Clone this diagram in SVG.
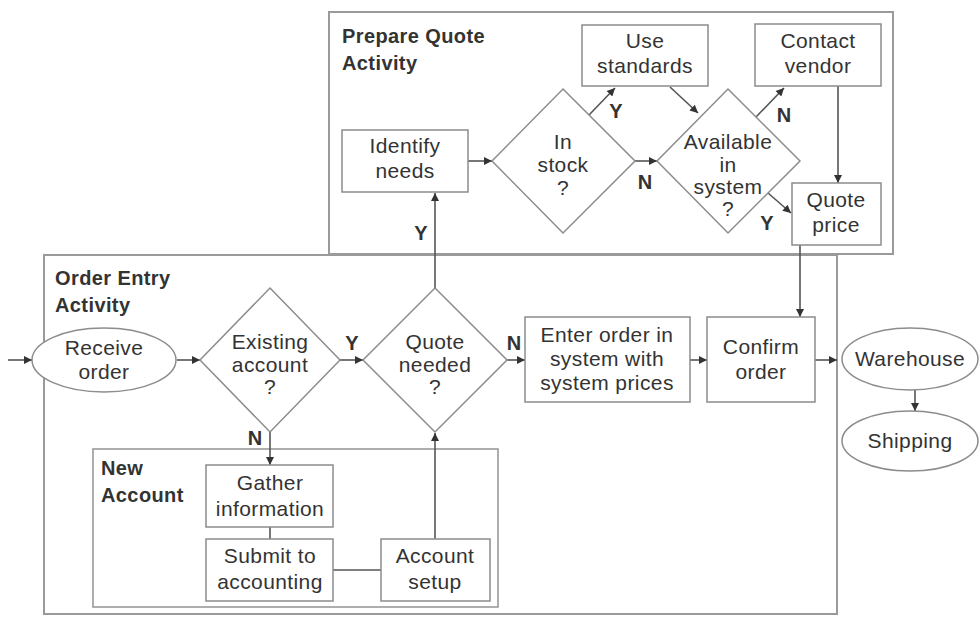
<svg xmlns="http://www.w3.org/2000/svg" width="979" height="641" viewBox="0 0 979 641">
<style>
.frame{fill:none;stroke:#9a9a9a;stroke-width:2}
.box{fill:#fff;stroke:#8c8c8c;stroke-width:1.5}
.t{font-family:"Liberation Sans",Arial,sans-serif;font-size:21px;fill:#333;text-anchor:middle;letter-spacing:0.4px}
.h{font-family:"Liberation Sans",Arial,sans-serif;font-size:20px;font-weight:bold;fill:#333;letter-spacing:0.4px}
.yn{font-family:"Liberation Sans",Arial,sans-serif;font-size:20px;font-weight:bold;fill:#333;text-anchor:middle}
.c{fill:none;stroke:#555;stroke-width:1.6}
</style>
<defs>
<marker id="ah" viewBox="0 0 10 10" refX="10" refY="5" markerWidth="10" markerHeight="8" markerUnits="userSpaceOnUse" orient="auto">
<path d="M0,0 L10,5 L0,10 z" fill="#333"/>
</marker>
</defs>
<rect width="979" height="641" fill="#fff"/>

<g id="prepare-quote">
<rect class="frame" x="329" y="12" width="564" height="242" fill="#fff"/>
<text class="h" x="342" y="43">Prepare Quote</text>
<text class="h" x="342" y="70">Activity</text>
</g>
<g id="order-entry">
<rect class="frame" x="44" y="255" width="793" height="359"/>
<text class="h" x="55" y="285">Order Entry</text>
<text class="h" x="55" y="312">Activity</text>
</g>
<g id="new-account">
<rect class="frame" x="93" y="449" width="405" height="158" style="stroke-width:1.6"/>
<text class="h" x="101" y="475">New</text>
<text class="h" x="101" y="502">Account</text>
</g>

<g id="connectors">
<line class="c" x1="8" y1="360" x2="32" y2="360" marker-end="url(#ah)"/>
<line class="c" x1="177" y1="360" x2="200" y2="360" marker-end="url(#ah)"/>
<line class="c" x1="340" y1="360" x2="363" y2="360" marker-end="url(#ah)"/>
<line class="c" x1="507" y1="360" x2="525" y2="360" marker-end="url(#ah)"/>
<line class="c" x1="690" y1="360" x2="707" y2="360" marker-end="url(#ah)"/>
<line class="c" x1="815" y1="360" x2="837" y2="360" marker-end="url(#ah)"/>
<line class="c" x1="915" y1="390" x2="915" y2="411" marker-end="url(#ah)"/>
<line class="c" x1="435" y1="288" x2="435" y2="193" marker-end="url(#ah)"/>
<line class="c" x1="468" y1="161" x2="492" y2="161" marker-end="url(#ah)"/>
<line class="c" x1="635" y1="161" x2="657" y2="161" marker-end="url(#ah)"/>
<line class="c" x1="589" y1="115" x2="615" y2="88" marker-end="url(#ah)"/>
<line class="c" x1="670" y1="87" x2="698" y2="113" marker-end="url(#ah)"/>
<line class="c" x1="756" y1="117" x2="784" y2="88" marker-end="url(#ah)"/>
<line class="c" x1="768" y1="193" x2="791" y2="213" marker-end="url(#ah)"/>
<line class="c" x1="838" y1="86" x2="838" y2="183" marker-end="url(#ah)"/>
<line class="c" x1="800" y1="245" x2="800" y2="317" marker-end="url(#ah)"/>
<line class="c" x1="270" y1="432" x2="270" y2="465" marker-end="url(#ah)"/>
<line class="c" x1="270" y1="527" x2="270" y2="539"/>
<line class="c" x1="333" y1="570" x2="381" y2="570"/>
<line class="c" x1="435" y1="539" x2="435" y2="433" marker-end="url(#ah)"/>
<text class="yn" x="616" y="118">Y</text>
<text class="yn" x="645" y="189">N</text>
<text class="yn" x="784" y="122">N</text>
<text class="yn" x="767" y="230">Y</text>
<text class="yn" x="421" y="240">Y</text>
<text class="yn" x="352" y="350">Y</text>
<text class="yn" x="514" y="350">N</text>
<text class="yn" x="255" y="445">N</text>
</g>

<g id="identify-needs">
<rect class="box" x="342" y="130" width="126" height="62"/>
<text class="t" x="405" y="153">Identify</text>
<text class="t" x="405" y="178">needs</text>
</g>
<g id="in-stock">
<polygon class="box" points="563,89 635,161 563,233 492,161"/>
<text class="t" x="563" y="149">In</text>
<text class="t" x="563" y="172">stock</text>
<text class="t" x="563" y="195">?</text>
</g>
<g id="use-standards">
<rect class="box" x="582" y="25" width="126" height="61"/>
<text class="t" x="645" y="48">Use</text>
<text class="t" x="645" y="73">standards</text>
</g>
<g id="available-in-system">
<polygon class="box" points="728,89 800,161 728,233 657,161"/>
<text class="t" x="728" y="149">Available</text>
<text class="t" x="728" y="172">in</text>
<text class="t" x="728" y="194">system</text>
<text class="t" x="728" y="216">?</text>
</g>
<g id="contact-vendor">
<rect class="box" x="755" y="24" width="126" height="62"/>
<text class="t" x="818" y="48">Contact</text>
<text class="t" x="818" y="73">vendor</text>
</g>
<g id="quote-price">
<rect class="box" x="792" y="183" width="89" height="62"/>
<text class="t" x="836" y="207">Quote</text>
<text class="t" x="836" y="232">price</text>
</g>
<g id="receive-order">
<ellipse class="box" cx="104" cy="360" rx="72" ry="32"/>
<text class="t" x="104" y="355">Receive</text>
<text class="t" x="104" y="379">order</text>
</g>
<g id="existing-account">
<polygon class="box" points="270,288 340,360 270,432 200,360"/>
<text class="t" x="270" y="349">Existing</text>
<text class="t" x="270" y="372">account</text>
<text class="t" x="270" y="394">?</text>
</g>
<g id="quote-needed">
<polygon class="box" points="435,288 507,360 435,432 363,360"/>
<text class="t" x="435" y="349">Quote</text>
<text class="t" x="435" y="372">needed</text>
<text class="t" x="435" y="394">?</text>
</g>
<g id="enter-order">
<rect class="box" x="525" y="317" width="165" height="85"/>
<text class="t" x="607" y="342">Enter order in</text>
<text class="t" x="607" y="366">system with</text>
<text class="t" x="607" y="390">system prices</text>
</g>
<g id="confirm-order">
<rect class="box" x="707" y="317" width="108" height="85"/>
<text class="t" x="761" y="354">Confirm</text>
<text class="t" x="761" y="379">order</text>
</g>
<g id="warehouse">
<ellipse class="box" cx="910" cy="359" rx="68" ry="31"/>
<text class="t" x="910" y="366">Warehouse</text>
</g>
<g id="shipping">
<ellipse class="box" cx="910" cy="441" rx="68" ry="30"/>
<text class="t" x="910" y="448">Shipping</text>
</g>
<g id="gather-information">
<rect class="box" x="206" y="465" width="127" height="62"/>
<text class="t" x="270" y="490">Gather</text>
<text class="t" x="270" y="516">information</text>
</g>
<g id="submit-to-accounting">
<rect class="box" x="206" y="539" width="127" height="62"/>
<text class="t" x="270" y="563">Submit to</text>
<text class="t" x="270" y="589">accounting</text>
</g>
<g id="account-setup">
<rect class="box" x="381" y="539" width="109" height="62"/>
<text class="t" x="435" y="563">Account</text>
<text class="t" x="435" y="589">setup</text>
</g>
</svg>
